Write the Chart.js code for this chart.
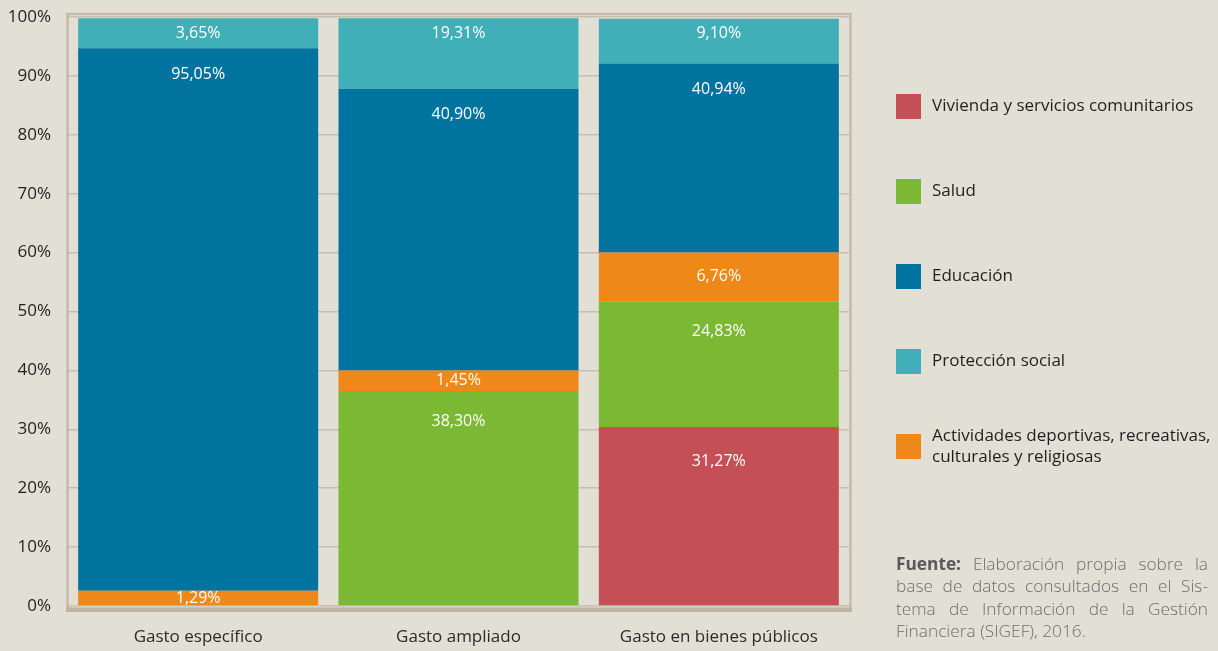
<!DOCTYPE html>
<html>
<head>
    <title>Gasto por finalidad</title>
    <script src="https://cdn.jsdelivr.net/npm/chart.js"></script>
    <style>
        html, body { margin: 0; padding: 0; background: #e2dfd4; }
        #wrap { position: relative; width: 1218px; height: 651px; }
        #fuente {
            position: absolute; left: 896px; top: 553px; width: 312px;
            font-family: "Open Sans", sans-serif; font-weight: 300; font-size: 17.3px;
            line-height: 22.4px; color: #6d6e71;
        }
        #fuente div { white-space: nowrap; text-align: justify; text-align-last: justify; }
        #fuente div.last { text-align-last: left; }
        #fuente b { color: #58595b; font-weight: 700; }
    </style>
</head>
<body>
<div id="wrap">
    <canvas id="gastoChart" width="1218" height="651"></canvas>
    <div id="fuente">
        <div><b>Fuente:</b> Elaboración propia sobre la</div>
        <div>base de datos consultados en el Sis-</div>
        <div>tema de Información de la Gestión</div>
        <div class="last">Financiera (SIGEF), 2016.</div>
    </div>
</div>

<script>
    const categories = ['Gasto específico', 'Gasto ampliado', 'Gasto en bienes públicos'];

    // segment heights as drawn in the picture (% of the axis)
    const vivienda = [null, null, 30.4];
    const salud = [null, 36.5, 21.3];
    const actividades = [2.6, 3.5, 8.3];
    const educacion = [92.1, 47.8, 32.1];
    const proteccion = [5.1, 12.0, 7.6];

    // percentages printed on the segments
    const viviendaPct = [null, null, 31.27];
    const saludPct = [null, 38.30, 24.83];
    const actividadesPct = [1.29, 1.45, 6.76];
    const educacionPct = [95.05, 40.90, 40.94];
    const proteccionPct = [3.65, 19.31, 9.10];

    const yTicks = [0, 10, 20, 30, 40, 50, 60, 70, 80, 90, 100];

    // frame around the plot
    const framePlugin = {
        id: 'frame',
        beforeDatasetsDraw(chart) {
            const { ctx, chartArea: a } = chart;
            ctx.save();
            ctx.strokeStyle = '#c4baaa';
            ctx.lineWidth = 2.5;
            ctx.strokeRect(a.left - 0.5, a.top - 3, a.right - a.left + 2, a.bottom - a.top + 6);
            ctx.fillStyle = '#c0b5a4';
            ctx.fillRect(a.left - 2, a.bottom + 1.5, a.right - a.left + 5, 4.5);
            ctx.restore();
        }
    };

    // white percentages inside the bars
    const barText = {
        id: 'barText',
        afterDatasetsDraw(chart) {
            const ctx = chart.ctx;
            ctx.save();
            ctx.font = '16px "Open Sans"';
            ctx.fillStyle = '#ffffff';
            ctx.textAlign = 'center';
            ctx.textBaseline = 'middle';
            chart.data.datasets.forEach((ds, i) => {
                chart.getDatasetMeta(i).data.forEach((bar, j) => {
                    const v = ds.printed[j];
                    if (v == null) return;
                    const top = Math.min(bar.y, bar.base);
                    const h = Math.abs(bar.base - bar.y);
                    const y = top + Math.min(h / 2, ds.labelOffset);
                    ctx.fillText(v.toFixed(2).replace('.', ',') + '%', bar.x, y);
                });
            });
            ctx.restore();
        }
    };

    // legend on the right, one item per row
    const sideLegend = {
        id: 'sideLegend',
        afterDraw(chart) {
            const ctx = chart.ctx;
            const order = [0, 1, 3, 4, 2];
            ctx.save();
            ctx.font = '17px "Open Sans"';
            ctx.textBaseline = 'middle';
            ctx.textAlign = 'left';
            order.forEach((idx, k) => {
                const ds = chart.data.datasets[idx];
                const cy = 106.5 + k * 85;
                ctx.fillStyle = ds.backgroundColor;
                ctx.fillRect(896, cy - 12.5, 25, 25);
                // simple word wrap
                const words = ds.label.split(' ');
                const lines = [];
                let line = '';
                words.forEach(w => {
                    const test = line ? line + ' ' + w : w;
                    if (ctx.measureText(test).width > 284 && line) {
                        lines.push(line);
                        line = w;
                    } else {
                        line = test;
                    }
                });
                lines.push(line);
                ctx.fillStyle = '#231f20';
                const lh = 21;
                const y0 = cy - (lines.length - 1) * lh / 2;
                lines.forEach((l, n) => ctx.fillText(l, 932, y0 + n * lh));
            });
            ctx.restore();
        }
    };

    const ctx = document.getElementById('gastoChart').getContext('2d');
    new Chart(ctx, {
        type: 'bar',
        data: {
            labels: categories,
            datasets: [
                { label: 'Vivienda y servicios comunitarios', data: vivienda, printed: viviendaPct, backgroundColor: '#c54f56', labelOffset: 34 },
                { label: 'Salud', data: salud, printed: saludPct, backgroundColor: '#7bb833', labelOffset: 30 },
                { label: 'Actividades deportivas, recreativas, culturales y religiosas', data: actividades, printed: actividadesPct, backgroundColor: '#ee8818', labelOffset: 24 },
                { label: 'Educación', data: educacion, printed: educacionPct, backgroundColor: '#00739f', labelOffset: 26 },
                { label: 'Protección social', data: proteccion, printed: proteccionPct, backgroundColor: '#40afb8', labelOffset: 15 }
            ]
        },
        options: {
            responsive: false,
            animation: false,
            devicePixelRatio: 1,
            layout: { padding: { top: 17, right: 369, bottom: 0, left: 0 } },
            datasets: {
                bar: { barPercentage: 0.922, categoryPercentage: 1.0, borderWidth: 0 }
            },
            plugins: {
                legend: { display: false },
                tooltip: { enabled: false }
            },
            scales: {
                x: {
                    stacked: true,
                    grid: { display: false, drawTicks: false },
                    border: { display: false },
                    ticks: {
                        padding: 21,
                        color: '#2b2b2b',
                        font: { family: '"Open Sans"', size: 17 }
                    },
                    afterFit(scale) { scale.height = 45; }
                },
                y: {
                    stacked: true,
                    min: 0,
                    max: 100,
                    afterBuildTicks(scale) { scale.ticks = yTicks.map(v => ({ value: v })); },
                    grid: { color: '#c8beb0', lineWidth: 1.5, drawTicks: false },
                    border: { display: false },
                    ticks: {
                        padding: 17,
                        color: '#231f20',
                        font: { family: '"Open Sans"', size: 17 },
                        callback: v => v + '%'
                    },
                    afterFit(scale) {
                        scale.width = 68;
                        scale.paddingTop = 0;
                        scale.paddingBottom = 0;
                    }
                }
            }
        },
        plugins: [framePlugin, barText, sideLegend]
    });
</script>
</body>
</html>
